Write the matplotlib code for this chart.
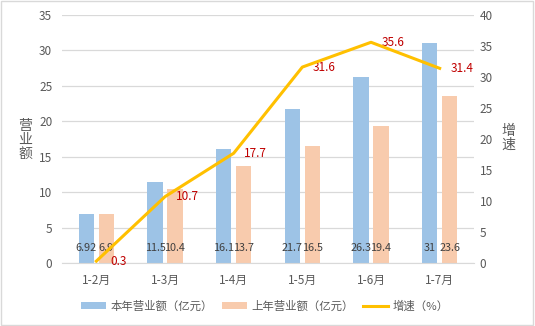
import matplotlib
matplotlib.use("Agg")
import matplotlib.pyplot as plt
from matplotlib.patches import Rectangle, Patch
from matplotlib.lines import Line2D
import numpy as np

plt.rcParams['font.family'] = ['Noto Sans CJK SC', 'DejaVu Sans']

categories = ["1-2月", "1-3月", "1-4月", "1-5月", "1-6月", "1-7月"]
this_year = [6.92, 11.5, 16.1, 21.7, 26.3, 31]
last_year = [6.9, 10.4, 13.7, 16.5, 19.4, 23.6]
growth = [0.3, 10.7, 17.7, 31.6, 35.6, 31.4]
this_labels = ["6.92", "11.5", "16.1", "21.7", "26.3", "31"]
last_labels = ["6.9", "10.4", "13.7", "16.5", "19.4", "23.6"]
growth_labels = ["0.3", "10.7", "17.7", "31.6", "35.6", "31.4"]

blue = "#9DC3E6"
orange = "#F8CBAD"
gold = "#FFC000"
red = "#C00000"
tickc = "#595959"
fs = 8.5

fig = plt.figure(figsize=(5.35, 3.26), dpi=100)
ax = fig.add_axes([62/535, 1-263/326, (474-62)/535, (263-15)/326])
ax2 = ax.twinx()

x = np.arange(len(categories))
w = 0.22
off = 0.145
ax.bar(x - off, this_year, w, color=blue, zorder=2)
ax.bar(x + off, last_year, w, color=orange, zorder=2)
for i in range(len(x)):
    ax.text(x[i] - off, 2.1, this_labels[i], ha='center', va='center', fontsize=7.8, color="#404040", zorder=3)
    ax.text(x[i] + off, 2.1, last_labels[i], ha='center', va='center', fontsize=7.8, color="#404040", zorder=3)

ax.set_xlim(-0.5, len(categories) - 0.5)
ax.set_ylim(0, 35)
ax.set_yticks(np.arange(0, 36, 5))
ax.yaxis.grid(True, color="#D9D9D9", linewidth=0.9, zorder=0)
ax.set_axisbelow(True)
for s in ax.spines.values():
    s.set_visible(False)
for s in ax2.spines.values():
    s.set_visible(False)
ax.spines['bottom'].set_visible(True)
ax.spines['bottom'].set_color("#D9D9D9")
ax.set_xticks(x)
ax.set_xticklabels(categories)
ax.tick_params(axis='both', length=0, labelsize=fs, colors=tickc, pad=7)
ax.tick_params(axis='x', pad=8)

ax2.plot(x, growth, color=gold, linewidth=2.2, zorder=4, solid_joinstyle='round')
ax2.set_ylim(0, 40)
ax2.set_yticks(np.arange(0, 41, 5))
ax2.tick_params(axis='y', length=0, labelsize=fs, colors=tickc, pad=4)
for i in range(len(x)):
    ax2.annotate(growth_labels[i], (x[i], growth[i]), xytext=(22, 0), textcoords='offset pixels',
                 ha='center', va='center', fontsize=fs, color=red)

fig.text(25/535, 1-140/326, "营\n业\n额", ha='center', va='center', fontsize=10, color=tickc, linespacing=1.0)
fig.text(508/535, 1-138/326, "增\n速", ha='center', va='center', fontsize=10, color=tickc, linespacing=1.0)

handles = [Patch(facecolor=blue), Patch(facecolor=orange), Line2D([0], [0], color=gold, linewidth=2.2)]
labels = ["本年营业额（亿元）", "上年营业额（亿元）", "增速（%）"]
fig.legend(handles, labels, loc='center', bbox_to_anchor=(0.495, 1-306/326), ncol=3, frameon=False,
           fontsize=8.2, handlelength=2.2, handleheight=0.6, columnspacing=0.8, handletextpad=0.4,
           labelcolor=tickc)

fig.patches.append(Rectangle((0.002, 0.003), 0.995, 0.994, transform=fig.transFigure,
                             fill=False, edgecolor="#D9D9D9", linewidth=1))

fig.savefig("out.png", dpi=100)
